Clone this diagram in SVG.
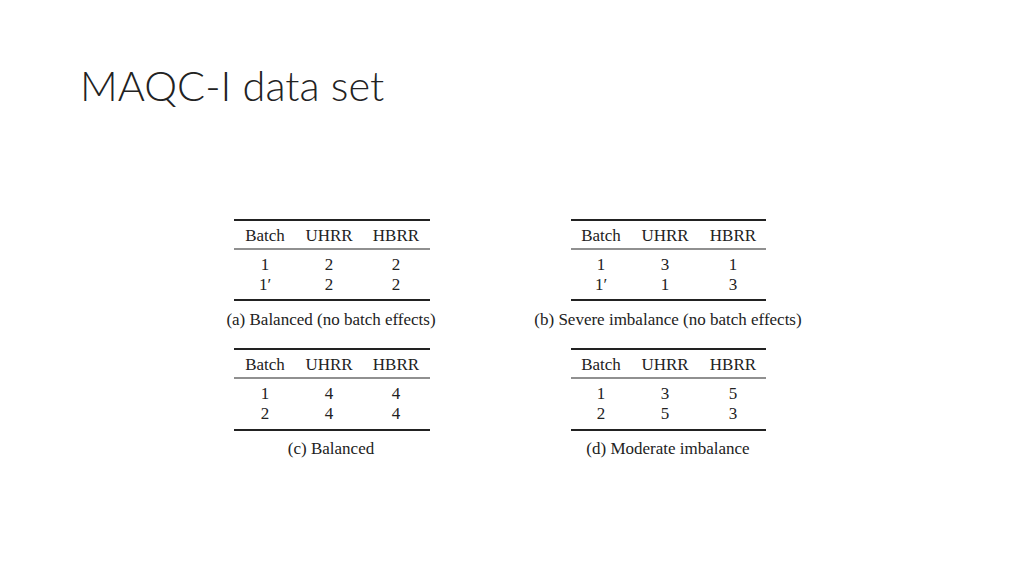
<svg xmlns="http://www.w3.org/2000/svg" width="1024" height="576" viewBox="0 0 1024 576">
<style>
.t{font-family:"Liberation Serif",serif;font-size:17px;fill:#222;text-anchor:middle}
.r{stroke:#222;stroke-width:1.2}
.h{stroke:#222;stroke-width:2}
</style>
<rect width="1024" height="576" fill="#fff"/>
<text x="80" y="101" font-family="Lato,'Open Sans',sans-serif" font-weight="300" font-size="41.5" fill="#222">MAQC-I data set</text>
<g id="table-a">
<line class="h" x1="234" y1="220" x2="430" y2="220"/><line class="r" x1="234" y1="249" x2="430" y2="249"/><line class="h" x1="234" y1="300" x2="430" y2="300"/>
<text class="t" x="265" y="241">Batch</text><text class="t" x="329" y="241">UHRR</text><text class="t" x="396" y="241">HBRR</text>
<text class="t" x="265" y="270">1</text><text class="t" x="329" y="270">2</text><text class="t" x="396" y="270">2</text>
<text class="t" x="265" y="290">1′</text><text class="t" x="329" y="290">2</text><text class="t" x="396" y="290">2</text>
<text class="t" x="331" y="325">(a) Balanced (no batch effects)</text>
</g>
<g id="table-b">
<line class="h" x1="571" y1="220" x2="766" y2="220"/><line class="r" x1="571" y1="249" x2="766" y2="249"/><line class="h" x1="571" y1="300" x2="766" y2="300"/>
<text class="t" x="601" y="241">Batch</text><text class="t" x="665" y="241">UHRR</text><text class="t" x="733" y="241">HBRR</text>
<text class="t" x="601" y="270">1</text><text class="t" x="665" y="270">3</text><text class="t" x="733" y="270">1</text>
<text class="t" x="601" y="290">1′</text><text class="t" x="665" y="290">1</text><text class="t" x="733" y="290">3</text>
<text class="t" x="668" y="325">(b) Severe imbalance (no batch effects)</text>
</g>
<g id="table-c">
<line class="h" x1="234" y1="349" x2="430" y2="349"/><line class="r" x1="234" y1="378" x2="430" y2="378"/><line class="h" x1="234" y1="430" x2="430" y2="430"/>
<text class="t" x="265" y="370">Batch</text><text class="t" x="329" y="370">UHRR</text><text class="t" x="396" y="370">HBRR</text>
<text class="t" x="265" y="399">1</text><text class="t" x="329" y="399">4</text><text class="t" x="396" y="399">4</text>
<text class="t" x="265" y="419">2</text><text class="t" x="329" y="419">4</text><text class="t" x="396" y="419">4</text>
<text class="t" x="331" y="454">(c) Balanced</text>
</g>
<g id="table-d">
<line class="h" x1="571" y1="349" x2="766" y2="349"/><line class="r" x1="571" y1="378" x2="766" y2="378"/><line class="h" x1="571" y1="430" x2="766" y2="430"/>
<text class="t" x="601" y="370">Batch</text><text class="t" x="665" y="370">UHRR</text><text class="t" x="733" y="370">HBRR</text>
<text class="t" x="601" y="399">1</text><text class="t" x="665" y="399">3</text><text class="t" x="733" y="399">5</text>
<text class="t" x="601" y="419">2</text><text class="t" x="665" y="419">5</text><text class="t" x="733" y="419">3</text>
<text class="t" x="668" y="454">(d) Moderate imbalance</text>
</g>
<g id="connectors"/>
</svg>
